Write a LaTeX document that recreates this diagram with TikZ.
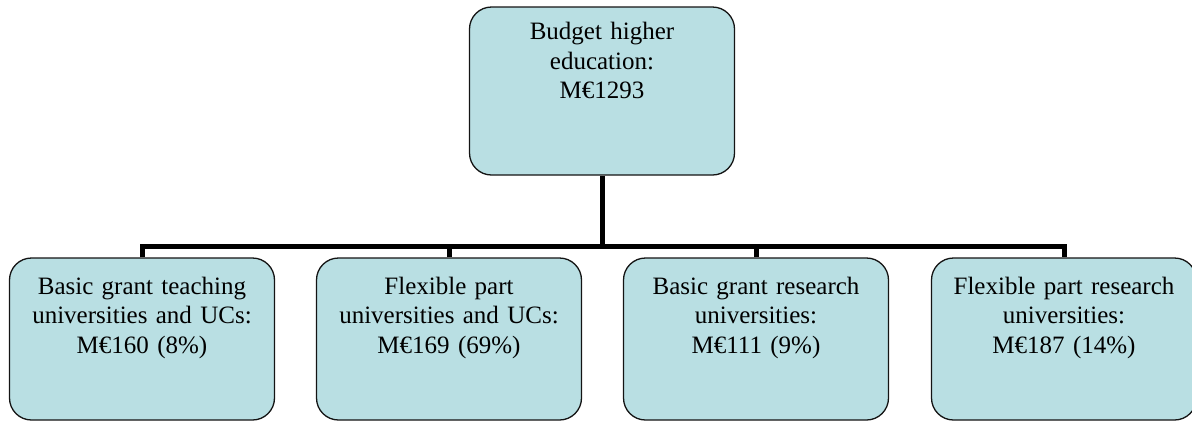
\documentclass[tikz,border=0pt]{standalone}
\usepackage{fontspec}
\setmainfont{Liberation Serif}
\definecolor{boxfill}{RGB}{185,223,227}
\definecolor{boxdraw}{RGB}{20,20,20}
\tikzset{
  box/.style={draw=boxdraw, fill=boxfill, line width=1.3pt, rounded corners=22pt,
    minimum width=265pt, inner sep=0pt},
  txt/.style={align=center, inner sep=0pt, text width=262pt,
    font=\fontsize{25}{29.5}\selectfont},
  conn/.style={line width=5pt, black}
}
\begin{document}
\begin{tikzpicture}[x=1pt,y=-1pt]
\useasboundingbox (0,0) rectangle (1192,421);
% top box
\node[box, minimum height=168pt] (top) at (602,91) {};
\node[txt, anchor=north] (toptxt) at ([yshift=-16pt]top.north) {Budget higher\\education:\\M€1293};
% bottom boxes
\node[box, minimum height=162pt] (b1) at (142,339) {};
\node[box, minimum height=162pt] (b2) at (449,339) {};
\node[box, minimum height=162pt] (b3) at (756,339) {};
\node[box, minimum height=162pt] (b4) at (1064,339) {};
\node[txt, anchor=north] (t1) at ([yshift=-19.5pt]b1.north) {Basic grant teaching\\universities and UCs:\\M€160 (8\%)};
\node[txt, anchor=north] (t2) at ([yshift=-19.5pt]b2.north) {Flexible part\\universities and UCs:\\M€169 (69\%)};
\node[txt, anchor=north] (t3) at ([yshift=-19.5pt]b3.north) {Basic grant research\\universities:\\M€111 (9\%)};
\node[txt, anchor=north] (t4) at ([yshift=-19.5pt]b4.north) {Flexible part research\\universities:\\M€187 (14\%)};
% connectors
\coordinate (bar) at (602,246);
\draw[conn] (top.south) -- (top.south |- bar);
\draw[conn] (b1.north) -- (b1.north |- bar) -- (b4.north |- bar) -- (b4.north);
\draw[conn] (b2.north) -- (b2.north |- bar);
\draw[conn] (b3.north) -- (b3.north |- bar);
\end{tikzpicture}
\end{document}
